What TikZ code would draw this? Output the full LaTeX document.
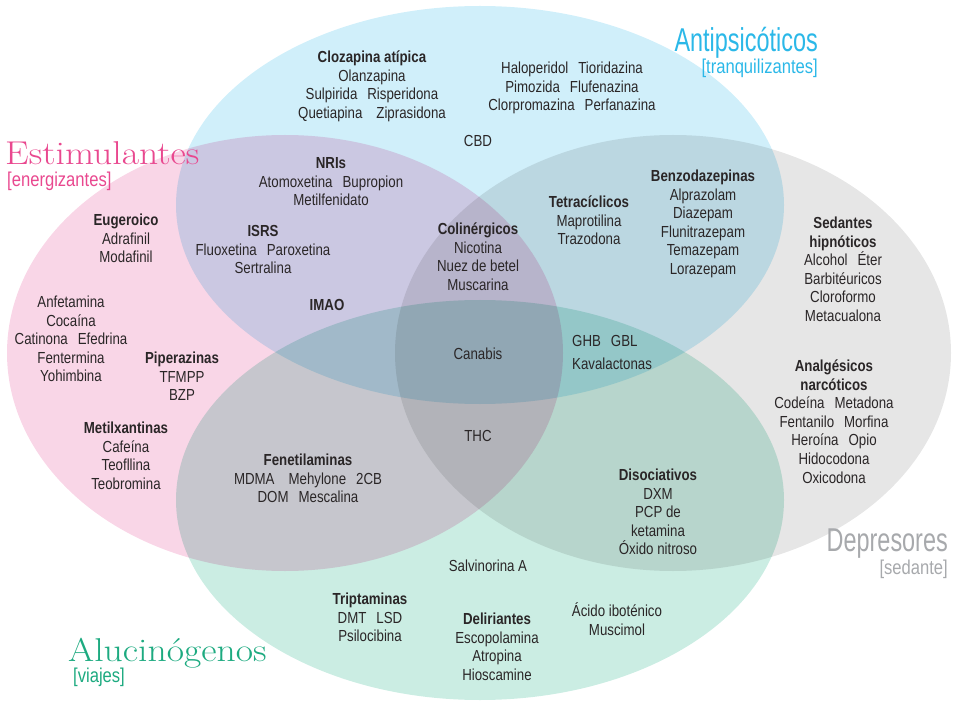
\documentclass[tikz,border=0pt]{standalone}
\usepackage{fontspec}
\newfontfamily\titlefont{Liberation Sans}[FakeStretch=0.71]
\setmainfont{Liberation Sans}[FakeStretch=0.83]
\definecolor{cblue}{HTML}{D0EFFA}
\definecolor{cpink}{HTML}{F9D6E7}
\definecolor{cgray}{HTML}{E6E6E6}
\definecolor{cgreen}{HTML}{CBEDE3}
\definecolor{ink}{HTML}{2A2627}
\definecolor{tcyan}{HTML}{2BB8E8}
\definecolor{tpink}{HTML}{E9488F}
\definecolor{tgreen}{HTML}{1DAA80}
\definecolor{tgray}{HTML}{A7A9AC}
\newcommand\gp{\hspace{10pt}}
\newcommand\gpp{\hspace{14pt}}
\newcommand\wide[1]{\scalebox{1.14}[1]{#1}}
\newcommand\tlines[4]{%
  \foreach \t [count=\i from 0] in {#4}
    \node[txt] (#1\i) at (#2, #3+18.6*\i) {\t};}
\tikzset{
  txt/.style={anchor=base, yshift=-5.5pt, inner sep=0pt, text=ink,
    font=\fontsize{16}{18}\selectfont},
  hd/.style={txt, font=\fontsize{16}{18}\selectfont\bfseries},
  venn/.style={blend mode=multiply},
  bigserif/.style={inner sep=0pt, font=\fontfamily{lmr}\selectfont\fontsize{33}{33}\selectfont},
  bigsans/.style={inner sep=0pt, font=\titlefont\fontsize{33}{33}\selectfont},
  subttl/.style={inner sep=0pt, font=\fontsize{20}{20}\selectfont},
}
\begin{document}
\begin{tikzpicture}[x=1pt,y=-1pt]
\useasboundingbox (0,0) rectangle (961,703);
% ellipses
\fill[venn, fill=cblue]  (480,205) ellipse [x radius=304pt, y radius=199pt];
\fill[venn, fill=cpink]  (285,353) ellipse [x radius=278pt, y radius=218pt];
\fill[venn, fill=cgray]  (673,353) ellipse [x radius=278pt, y radius=218pt];
\fill[venn, fill=cgreen] (480,500) ellipse [x radius=304pt, y radius=200pt];
% titles
\node[bigsans, anchor=base east, text=tcyan] (antip) at (818,52) {Antipsicóticos};
\node[subttl, anchor=base east, text=tcyan] (antips) at (818,74) {[tranquilizantes]};
\node[bigserif, anchor=base west, text=tpink] (estim) at (5,165) {\wide{Estimulantes}};
\node[subttl, anchor=base west, text=tpink] (estims) at (7,187) {[energizantes]};
\node[bigserif, anchor=base west, text=tgreen] (aluc) at (68,661) {\wide{Alucinógenos}};
\node[subttl, anchor=base west, text=tgreen] (alucs) at (73,682) {[viajes]};
\node[bigsans, anchor=base east, text=tgray] (depr) at (948,551) {Depresores};
\node[subttl, anchor=base east, text=tgray] (deprs) at (948,574) {[sedante]};
% Antipsicoticos
\tlines{cl}{372}{57}{\textbf{Clozapina atípica},Olanzapina,Sulpirida\gp Risperidona,Quetiapina\gpp Ziprasidona}
\tlines{ha}{572}{68}{Haloperidol\gp Tioridazina,Pimozida\gp Flufenazina,Clorpromazina\gp Perfanazina}
\node[txt] (cbd) at (478,141) {CBD};
% Estimulantes + Antipsicoticos
\tlines{nr}{331}{163}{\textbf{NRIs},Atomoxetina\gp Bupropion,Metilfenidato}
\tlines{is}{263}{231}{\textbf{ISRS},Fluoxetina\gp Paroxetina,Sertralina}
\node[hd] (imao) at (327,305) {IMAO};
\tlines{co}{478}{229}{\textbf{Colinérgicos},Nicotina,Nuez de betel,Muscarina}
\node[txt] (canab) at (478,354) {Canabis};
\node[txt] (thc) at (478,436) {THC};
% Antipsicoticos + Depresores
\tlines{te}{589}{202}{\textbf{Tetracíclicos},Maprotilina,Trazodona}
\tlines{bz}{703}{176}{\textbf{Benzodazepinas},Alprazolam,Diazepam,Flunitrazepam,Temazepam,Lorazepam}
\node[txt, anchor=base west] (ghb) at (572,341) {GHB\gp GBL};
\node[txt, anchor=base west] (kava) at (572,364) {Kavalactonas};
% Depresores
\tlines{se}{843}{223}{\textbf{Sedantes},\textbf{hipnóticos},Alcohol\gp Éter,Barbitéuricos,Cloroformo,Metacualona}
\tlines{an}{834}{366}{\textbf{Analgésicos},\textbf{narcóticos},Codeína\gp Metadona,Fentanilo\gp Morfina,Heroína\gp Opio,Hidocodona,Oxicodona}
% Estimulantes
\tlines{eu}{126}{220}{\textbf{Eugeroico},Adrafinil,Modafinil}
\tlines{af}{71}{302}{Anfetamina,Cocaína,Catinona\gp Efedrina,Fentermina,Yohimbina}
\tlines{pi}{182}{358}{\textbf{Piperazinas},TFMPP,BZP}
\tlines{me}{126}{428}{\textbf{Metilxantinas},Cafeína,Teofllina,Teobromina}
% Alucinogenos
\tlines{fe}{308}{460}{\textbf{Fenetilaminas},MDMA\gpp Mehylone\gp 2CB,DOM\gp Mescalina}
\tlines{di}{658}{475}{\textbf{Disociativos},DXM,PCP de,ketamina,Óxido nitroso}
\node[txt] (salv) at (488,566) {Salvinorina A};
\tlines{tr}{370}{599}{\textbf{Triptaminas},DMT\gp LSD,Psilocibina}
\tlines{de}{497}{619}{\textbf{Deliriantes},Escopolamina,Atropina,Hioscamine}
\tlines{ac}{617}{611}{Ácido iboténico,Muscimol}
\end{tikzpicture}
\end{document}
